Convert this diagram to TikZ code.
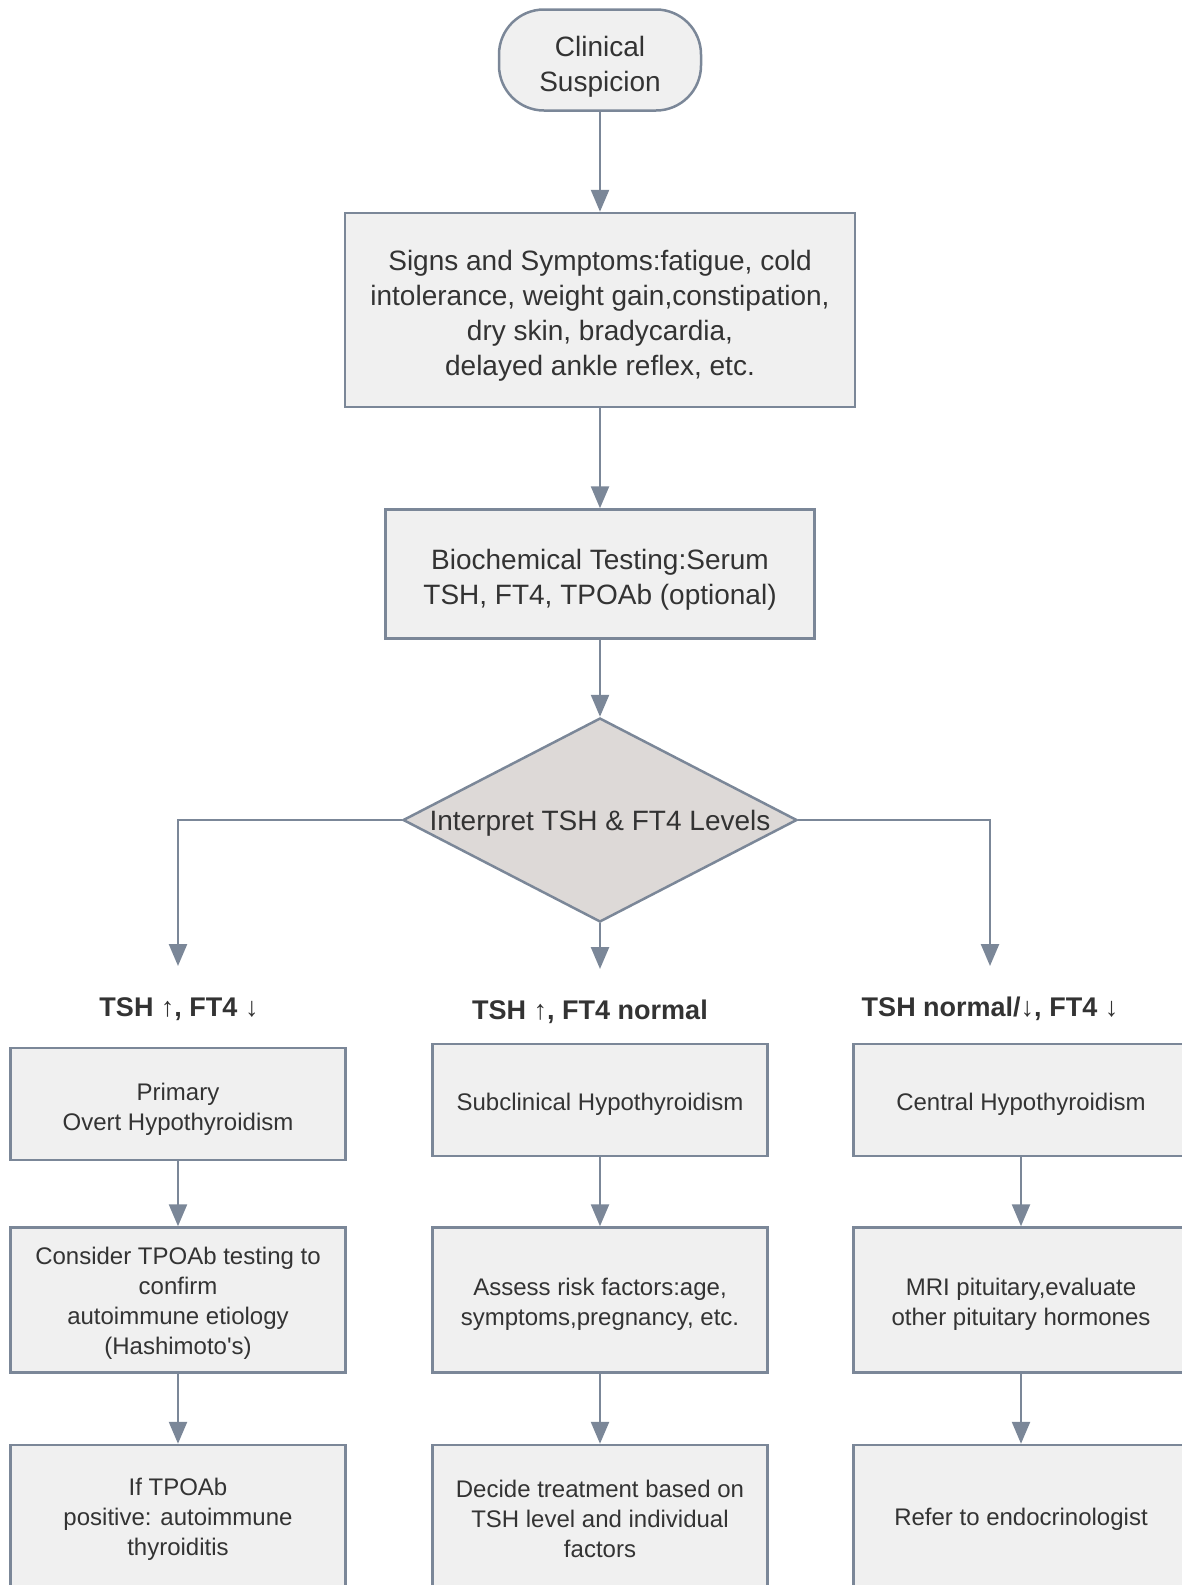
\documentclass[tikz,border=0pt]{standalone}
\usepackage{fontspec}
\setmainfont{Liberation Sans}
\usetikzlibrary{shapes.geometric,arrows.meta}
\definecolor{linec}{RGB}{123,135,152}
\definecolor{boxfill}{RGB}{240,240,240}
\definecolor{decfill}{RGB}{221,217,215}
\definecolor{textc}{RGB}{51,51,51}

\begin{document}
\begin{tikzpicture}[x=1pt,y=-1pt,
		box/.style={rectangle,draw=linec,fill=boxfill,line width=2.5pt,text=textc,align=center,inner sep=0pt},
		lower/.style={execute at begin node={\rule{0pt}{#1}}},
		bigtext/.style={font=\fontsize{28}{35}\selectfont},
		smalltext/.style={font=\fontsize{24}{30}\selectfont},
		cellbox/.style={smalltext,minimum width=335pt},
		caselabel/.style={text=textc,font=\bfseries\fontsize{27}{32}\selectfont,lower=23.5pt}]
			\useasboundingbox (0,0) rectangle (1182,1585);
			
			\begin{scope}[every node/.style={box,bigtext}]
				\node [rounded corners=45pt,minimum width=202pt,minimum height=101pt,lower=69pt] (clin) at (600,60) {Clinical\\Suspicion};
				\node [minimum width=510pt,minimum height=194pt,lower=137pt] (signs) at (600,310) {Signs and Symptoms:fatigue, cold\\intolerance, weight gain,constipation,\\dry skin, bradycardia,\\delayed ankle reflex, etc.};
				\node [minimum width=429pt,minimum height=129pt,lower=67pt] (bio) at (600,574) {Biochemical Testing:Serum\\TSH, FT4, TPOAb (optional)};
				\node [diamond,aspect=1.93,fill=decfill,minimum width=394pt,minimum height=204pt,text depth=0pt] (dec) at (600,820) {Interpret TSH \& FT4 Levels};
			\end{scope}
			
			\node [caselabel] (lA) at (179,1007) {TSH ↑, FT4 ↓};
			\node [caselabel] (lB) at (590,1010) {TSH ↑, FT4 normal};
			\node [caselabel] (lC) at (990,1007) {TSH normal/↓, FT4 ↓};
			\coordinate (tA) at (178,966);
			\coordinate (tB) at (600,969);
			\coordinate (tC) at (990,966);
			
			\begin{scope}[every node/.style={box,cellbox}]
				\node [minimum height=112pt,lower=57pt] (prim) at (178,1104) {Primary\\Overt Hypothyroidism};
				\node [minimum height=112pt,lower=25.5pt] (subc) at (600,1100) {Subclinical Hypothyroidism};
				\node [minimum height=112pt,lower=25.5pt] (cent) at (1021,1100) {Central Hypothyroidism};
				\node [minimum height=145pt,lower=113.5pt] (tpo) at (178,1300) {Consider TPOAb testing to\\confirm\\autoimmune etiology\\(Hashimoto\textquotesingle s)};
				\node [minimum height=145pt,lower=55.5pt] (risk) at (600,1300) {Assess risk factors:age,\\symptoms,pregnancy, etc.};
				\node [minimum height=145pt,lower=55.5pt] (mri) at (1021,1300) {MRI pituitary,evaluate\\other pituitary hormones};
				\node [minimum height=148pt] (thyr) at (178,1519) {If TPOAb\\positive: autoimmune\\thyroiditis};
				\node [minimum height=148pt] (treat) at (600,1519) {Decide treatment based on\\TSH level and individual\\factors};
				\node [minimum height=148pt] (endo) at (1021,1519) {Refer to endocrinologist};
			\end{scope}
			
			\begin{scope}[every edge/.style={draw=linec,line width=2.5pt}]
				\path [-{Triangle[width=18pt,length=22pt]}] (clin) edge (signs);
				\path [-{Triangle[width=18pt,length=22pt]}] (signs) edge (bio);
				\path [-{Triangle[width=18pt,length=22pt]}] (bio) edge (dec);
				\path [-{Triangle[width=18pt,length=22pt]}] (dec) edge (tB);
				\path [-{Triangle[width=18pt,length=22pt]}] (prim) edge (tpo);
				\path [-{Triangle[width=18pt,length=22pt]}] (tpo) edge (thyr);
				\path [-{Triangle[width=18pt,length=22pt]}] (subc) edge (risk);
				\path [-{Triangle[width=18pt,length=22pt]}] (risk) edge (treat);
				\path [-{Triangle[width=18pt,length=22pt]}] (cent) edge (mri);
				\path [-{Triangle[width=18pt,length=22pt]}] (mri) edge (endo);
			\end{scope}
			\draw [draw=linec,line width=2.5pt,-{Triangle[width=18pt,length=22pt]}] (dec.west) -| (tA);
			\draw [draw=linec,line width=2.5pt,-{Triangle[width=18pt,length=22pt]}] (dec.east) -| (tC);
		\end{tikzpicture}
\end{document}
